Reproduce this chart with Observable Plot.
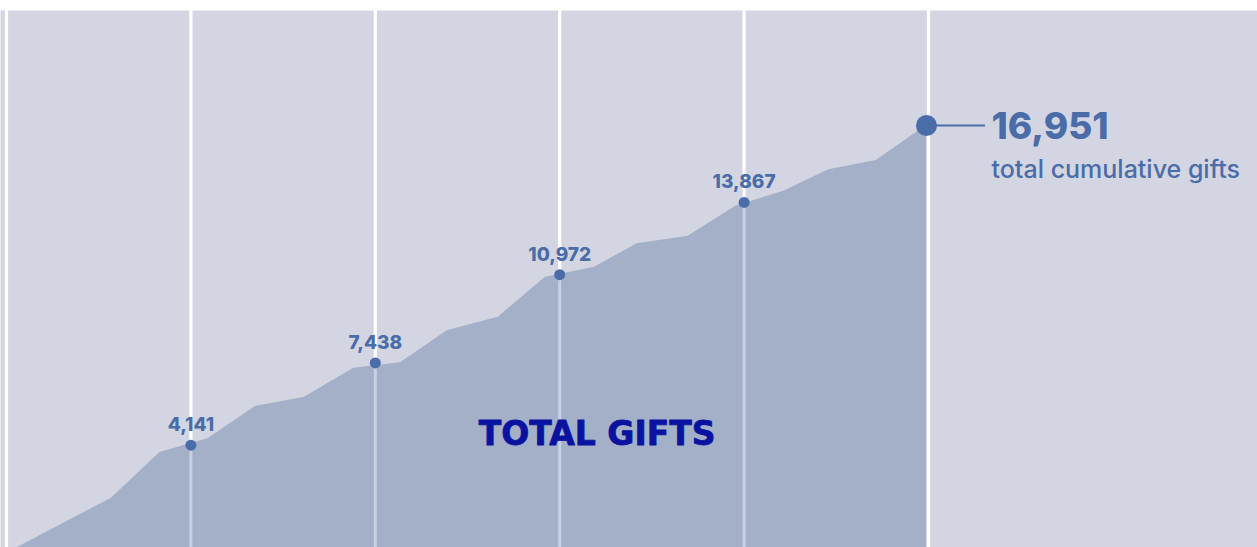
<!DOCTYPE html>
<html>
<head>
<meta charset="utf-8">
<script src="https://cdn.jsdelivr.net/npm/d3@7"></script>
<script src="https://cdn.jsdelivr.net/npm/@observablehq/plot@0.6"></script>
<style>
  html, body { margin: 0; padding: 0; background: #ffffff; }
  #chart svg { display: block; }
</style>
</head>
<body>
<div id="chart"></div>
<script>
// Period (in years from start) and cumulative gifts at each step
const periods = [0.049, 0.569, 0.832, 1.092, 1.350, 1.616, 1.883, 2.137, 2.390, 2.667, 2.923, 3.189, 3.420, 3.697, 3.956, 4.215, 4.459, 4.716, 4.989];
const gifts   = [0,     2016,  3847,  4396,  5690,  6063,  7225,  7442,  8724,  9269,  10872, 11273, 12210, 12515, 13725, 14318, 15176, 15549, 16951];

// Year boundaries (gridlines) and milestone totals at each boundary
const gridYears = [0, 1, 2, 3, 4, 5];
const milestoneYears = [1, 2, 3, 4];
const milestoneValues = [4141, 7438, 10972, 13867];

const totalLabel = "16,951";
const totalSubtitle = "total cumulative gifts";
const areaTitle = "TOTAL GIFTS";

const series = periods.map((p, i) => ({period: p, gifts: gifts[i]}));
const milestones = milestoneYears.map((y, i) => ({period: y, value: milestoneValues[i]}));
const last = series[series.length - 1];
const fmt = d3.format(",");

const blue = "#4a6ca8";
const numFont = "Inter, 'Liberation Sans', sans-serif";

const chart = Plot.plot({
  width: 1257,
  height: 547,
  marginTop: 10,
  marginBottom: 0,
  marginLeft: 0,
  marginRight: 0,
  style: {background: "transparent", overflow: "visible"},
  x: {domain: [0, 5], range: [6, 928], axis: null},
  y: {domain: [0, 16951], range: [548, 125], axis: null},
  marks: [
    Plot.frame({fill: "#d3d6e2", stroke: null}),
    Plot.ruleX(gridYears, {x: d => d, stroke: "#ffffff", strokeWidth: 3.2}),
    Plot.areaY(series, {x: "period", y: "gifts", fill: "#a4afc8"}),
    Plot.ruleX(milestones, {x: "period", y1: 0, y2: "value", stroke: "#c8d0e2", strokeWidth: 3}),
    Plot.dot(milestones, {x: "period", y: "value", r: 5.5, fill: blue, stroke: null}),
    Plot.text(milestones, {
      x: "period", y: "value", text: d => fmt(d.value),
      lineAnchor: "bottom", dy: -14, fill: blue,
      fontSize: 19, fontWeight: 800, fontFamily: numFont
    }),
    Plot.ruleY([last], {x1: "period", x2: d => d.period + 0.32, y: "gifts", stroke: blue, strokeWidth: 2}),
    Plot.dot([last], {x: "period", y: "gifts", r: 10.5, fill: blue, stroke: null}),
    Plot.text([last], {
      x: "period", y: "gifts", text: () => totalLabel,
      textAnchor: "start", lineAnchor: "bottom", dx: 65, dy: 13, fill: blue,
      fontSize: 37, fontWeight: 800, fontFamily: numFont
    }),
    Plot.text([last], {
      x: "period", y: "gifts", text: () => totalSubtitle,
      textAnchor: "start", lineAnchor: "bottom", dx: 65, dy: 52, fill: blue,
      fontSize: 25, fontWeight: 500, fontFamily: numFont
    }),
    Plot.text([{period: 3.203, gifts: 4128}], {
      x: "period", y: "gifts", text: () => areaTitle,
      lineAnchor: "bottom", fill: "#0a12a0",
      fontSize: 33, fontWeight: 700, fontFamily: "'DejaVu Sans', sans-serif",
      stroke: "#0a12a0", strokeWidth: 0.8
    })
  ]
});

document.getElementById("chart").appendChild(chart);
</script>
</body>
</html>
